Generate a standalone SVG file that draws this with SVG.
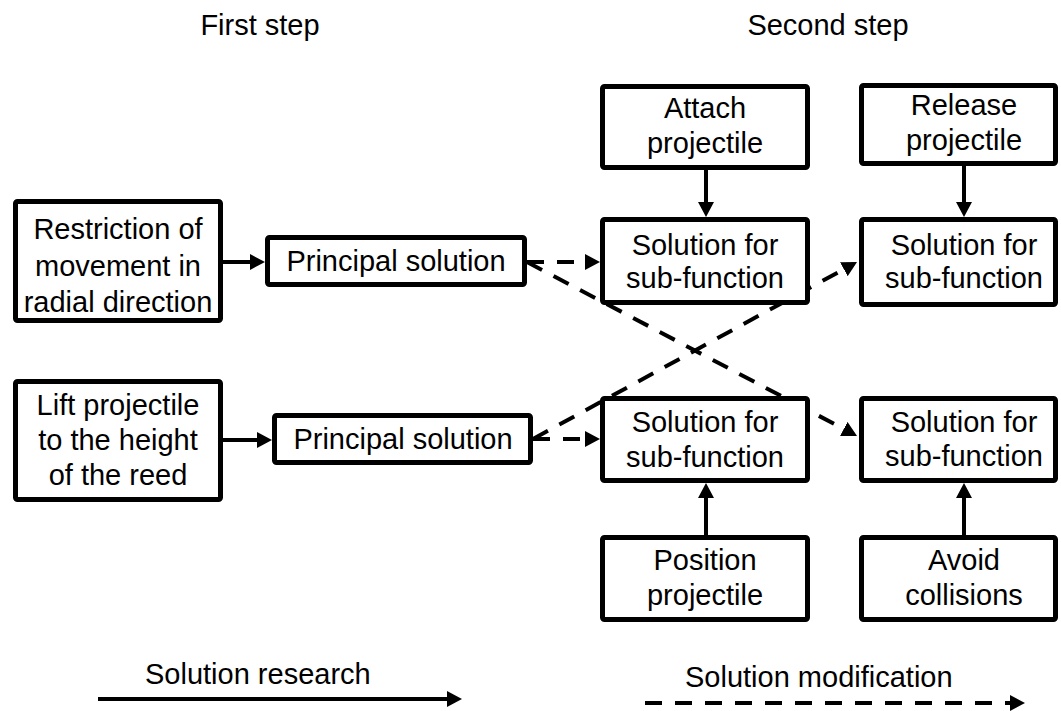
<svg xmlns="http://www.w3.org/2000/svg" width="1061" height="711" viewBox="0 0 1061 711">
  <style>
    .box { fill: #fff; stroke: #000; stroke-width: 5; }
    .lbl { font-family: "Liberation Sans", Arial, sans-serif; font-size: 29px; fill: #000; text-anchor: middle; }
    .leg { font-family: "Liberation Sans", Arial, sans-serif; font-size: 29px; fill: #000; }
    .solid { stroke: #000; stroke-width: 4; fill: none; marker-end: url(#head); }
    .dash { stroke: #000; stroke-width: 4; fill: none; stroke-dasharray: 17 13; marker-end: url(#head); }
  </style>
  <defs>
    <!-- filled triangular arrowhead; tip sits 4px past the line end -->
    <marker id="head" viewBox="0 0 15 16" refX="11" refY="8" markerWidth="15" markerHeight="16" markerUnits="userSpaceOnUse" orient="auto">
      <path d="M0,0 L15,8 L0,16 z" fill="#000"/>
    </marker>
  </defs>
  <rect width="1061" height="711" fill="#fff"/>

  <!-- column headers -->
  <text class="lbl" x="260" y="35">First step</text>
  <text class="lbl" x="828" y="35">Second step</text>

  <!-- connectors -->
  <g id="connectors">
    <line class="solid" x1="223" y1="262" x2="261" y2="262"/>
    <line class="solid" x1="223" y1="440" x2="268" y2="440"/>
    <line class="solid" x1="706" y1="170" x2="706" y2="213"/>
    <line class="solid" x1="964" y1="166" x2="964" y2="213"/>
    <line class="solid" x1="706" y1="535" x2="706" y2="487"/>
    <line class="solid" x1="964" y1="535" x2="964" y2="487"/>
    <line class="dash" x1="527" y1="262" x2="596" y2="262"/>
    <line class="dash" x1="527" y1="262" x2="853.5" y2="434.1"/>
    <line class="dash" x1="533" y1="439" x2="596" y2="439"/>
    <line class="dash" x1="533" y1="439" x2="853.5" y2="263.9"/>
  </g>

  <!-- first step -->
  <g id="restriction">
    <rect class="box" x="15.5" y="201.5" width="205" height="119" rx="2"/>
    <text class="lbl" x="118" y="239">Restriction of</text>
    <text class="lbl" x="118" y="276">movement in</text>
    <text class="lbl" x="118" y="312">radial direction</text>
  </g>
  <g id="lift">
    <rect class="box" x="15.5" y="381.5" width="205" height="118" rx="2"/>
    <text class="lbl" x="118" y="415">Lift projectile</text>
    <text class="lbl" x="118" y="450">to the height</text>
    <text class="lbl" x="118" y="485">of the reed</text>
  </g>
  <g id="principal1">
    <rect class="box" x="267.5" y="237.5" width="257" height="47" rx="2"/>
    <text class="lbl" x="396" y="271">Principal solution</text>
  </g>
  <g id="principal2">
    <rect class="box" x="274.5" y="415.5" width="256" height="47" rx="2"/>
    <text class="lbl" x="403" y="449">Principal solution</text>
  </g>

  <!-- second step -->
  <g id="attach">
    <rect class="box" x="602.5" y="86.5" width="205" height="81" rx="2"/>
    <text class="lbl" x="705" y="118">Attach</text>
    <text class="lbl" x="705" y="153">projectile</text>
  </g>
  <g id="release">
    <rect class="box" x="861.5" y="85.5" width="194" height="78" rx="2"/>
    <text class="lbl" x="964" y="115">Release</text>
    <text class="lbl" x="964" y="150">projectile</text>
  </g>
  <g id="sub-tl">
    <rect class="box" x="602.5" y="219.5" width="205" height="83" rx="2"/>
    <text class="lbl" x="705" y="255">Solution for</text>
    <text class="lbl" x="705" y="288">sub-function</text>
  </g>
  <g id="sub-tr">
    <rect class="box" x="861.5" y="219.5" width="194" height="85" rx="2"/>
    <text class="lbl" x="964" y="255">Solution for</text>
    <text class="lbl" x="964" y="288">sub-function</text>
  </g>
  <g id="sub-bl">
    <rect class="box" x="602.5" y="398.5" width="205" height="82" rx="2"/>
    <text class="lbl" x="705" y="432">Solution for</text>
    <text class="lbl" x="705" y="467">sub-function</text>
  </g>
  <g id="sub-br">
    <rect class="box" x="861.5" y="398.5" width="194" height="82" rx="2"/>
    <text class="lbl" x="964" y="432">Solution for</text>
    <text class="lbl" x="964" y="466">sub-function</text>
  </g>
  <g id="position">
    <rect class="box" x="602.5" y="537.5" width="205" height="82" rx="2"/>
    <text class="lbl" x="705" y="570">Position</text>
    <text class="lbl" x="705" y="605">projectile</text>
  </g>
  <g id="avoid">
    <rect class="box" x="861.5" y="537.5" width="194" height="82" rx="2"/>
    <text class="lbl" x="964" y="570">Avoid</text>
    <text class="lbl" x="964" y="605">collisions</text>
  </g>

  <!-- legend -->
  <g id="legend">
    <text class="leg" x="145" y="684">Solution research</text>
    <line class="solid" x1="98" y1="699" x2="458" y2="699"/>
    <text class="leg" x="685" y="687">Solution modification</text>
    <line class="dash" x1="645" y1="703" x2="1021" y2="703"/>
  </g>
</svg>
